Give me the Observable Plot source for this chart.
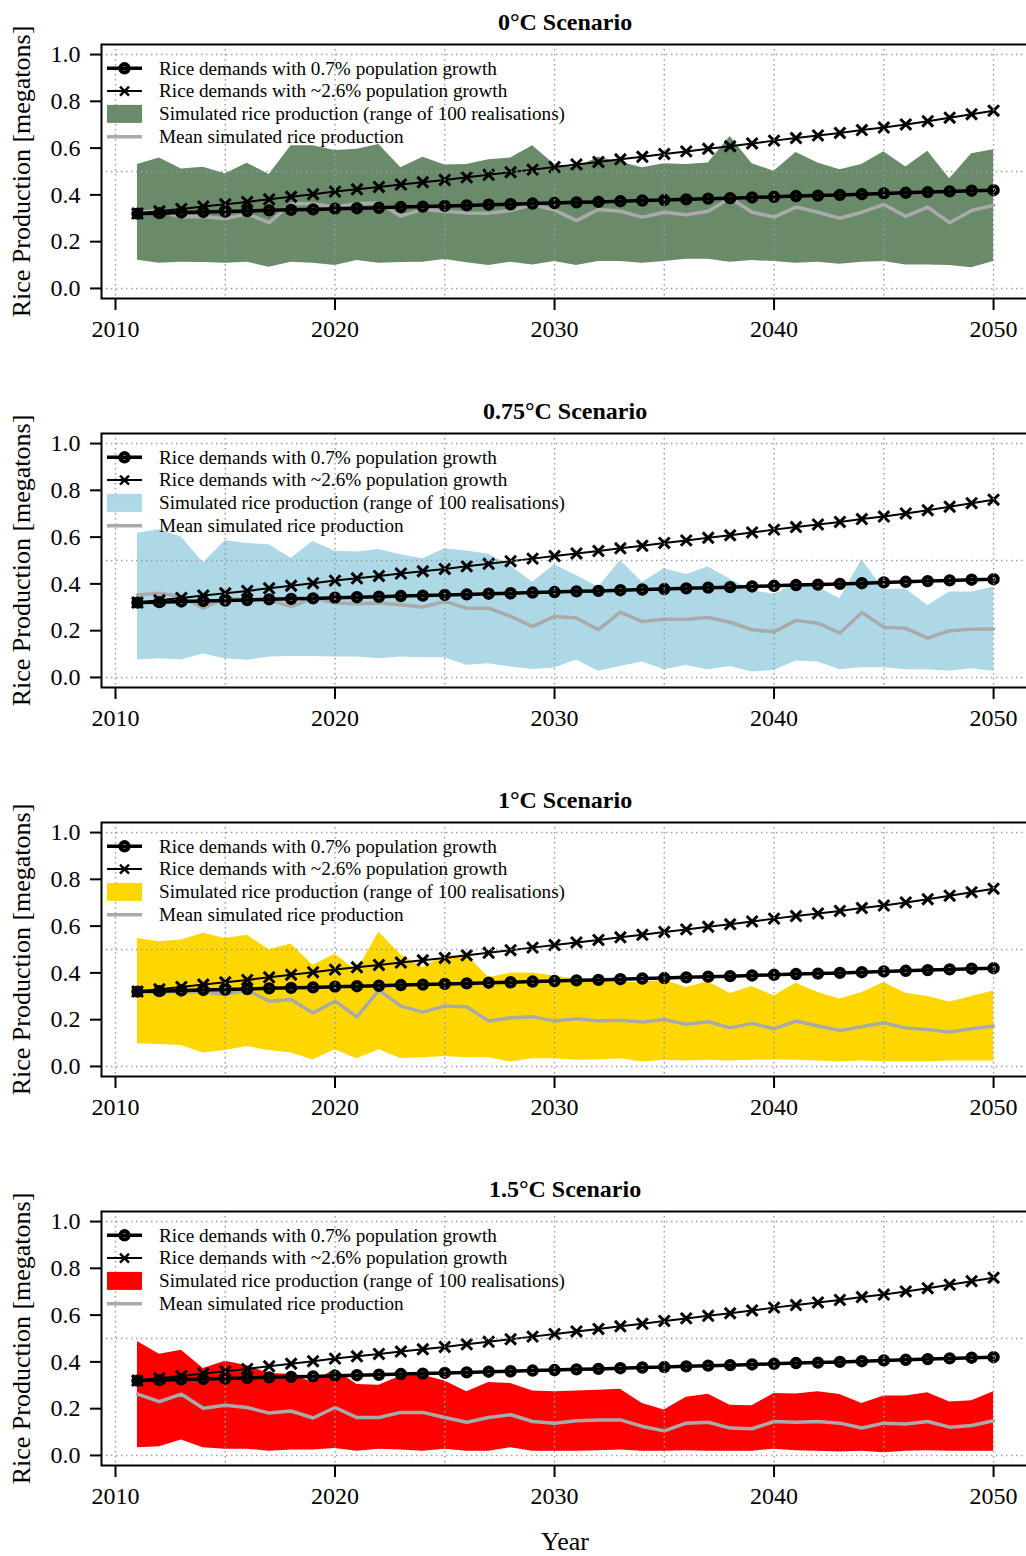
<!DOCTYPE html>
<html><head><meta charset="utf-8">
<script src="https://cdn.jsdelivr.net/npm/d3@7"></script>
<script src="https://cdn.jsdelivr.net/npm/@observablehq/plot@0.6"></script>
<style>
body{margin:0;background:#fff;width:1026px;overflow:hidden;}
svg{display:block;}
</style></head><body><div id="chart"></div>
<script>
const years = [2011,2012,2013,2014,2015,2016,2017,2018,2019,2020,2021,2022,2023,2024,2025,2026,2027,2028,2029,2030,
               2031,2032,2033,2034,2035,2036,2037,2038,2039,2040,2041,2042,2043,2044,2045,2046,2047,2048,2049,2050];
const demand07 = [0.320,0.322,0.325,0.327,0.329,0.331,0.334,0.336,0.338,0.341,0.343,0.345,0.348,0.350,0.353,0.355,0.358,0.360,0.363,0.365,
                  0.368,0.370,0.373,0.376,0.378,0.381,0.384,0.386,0.389,0.392,0.395,0.397,0.400,0.403,0.406,0.409,0.412,0.415,0.418,0.420];
const demand26 = [0.320,0.330,0.340,0.350,0.360,0.370,0.381,0.392,0.403,0.414,0.424,0.434,0.444,0.454,0.464,0.475,0.486,0.497,0.508,0.519,
                  0.530,0.541,0.552,0.563,0.575,0.586,0.597,0.608,0.620,0.632,0.643,0.654,0.665,0.677,0.688,0.701,0.715,0.730,0.745,0.760];

const s0Max = [0.530,0.558,0.511,0.518,0.490,0.535,0.487,0.610,0.610,0.590,0.595,0.615,0.516,0.561,0.528,0.530,0.550,0.558,0.610,0.530,
               0.516,0.561,0.540,0.516,0.533,0.530,0.536,0.650,0.533,0.501,0.581,0.536,0.507,0.530,0.584,0.519,0.587,0.469,0.576,0.593];
const s0Min = [0.121,0.108,0.112,0.111,0.108,0.112,0.091,0.112,0.108,0.098,0.120,0.108,0.111,0.112,0.124,0.110,0.098,0.112,0.100,0.115,
               0.098,0.115,0.115,0.108,0.115,0.125,0.125,0.112,0.119,0.115,0.108,0.112,0.103,0.112,0.115,0.100,0.100,0.098,0.088,0.115];
const s0Mean = [0.326,0.333,0.305,0.308,0.298,0.319,0.281,0.362,0.362,0.348,0.362,0.365,0.309,0.338,0.330,0.323,0.322,0.333,0.359,0.335,
                0.290,0.338,0.330,0.305,0.326,0.315,0.330,0.387,0.326,0.305,0.348,0.326,0.300,0.326,0.359,0.308,0.348,0.281,0.333,0.355];

const s075Max = [0.617,0.631,0.600,0.490,0.584,0.573,0.567,0.510,0.581,0.540,0.536,0.547,0.525,0.507,0.550,0.541,0.527,0.477,0.407,0.482,
                 0.436,0.386,0.500,0.407,0.465,0.440,0.472,0.420,0.372,0.355,0.400,0.386,0.336,0.503,0.375,0.378,0.308,0.365,0.365,0.386];
const s075Min = [0.075,0.080,0.075,0.100,0.080,0.073,0.087,0.090,0.090,0.087,0.087,0.080,0.087,0.084,0.084,0.052,0.059,0.045,0.034,0.040,
                 0.075,0.027,0.047,0.066,0.033,0.051,0.033,0.047,0.023,0.030,0.070,0.066,0.033,0.041,0.041,0.033,0.033,0.027,0.037,0.027];
const s075Mean = [0.353,0.360,0.346,0.296,0.339,0.332,0.332,0.303,0.339,0.318,0.315,0.318,0.311,0.301,0.325,0.296,0.296,0.261,0.218,0.261,
                  0.254,0.204,0.279,0.239,0.249,0.249,0.256,0.236,0.204,0.195,0.244,0.232,0.190,0.278,0.215,0.210,0.168,0.200,0.206,0.207];

const s1Max = [0.547,0.533,0.541,0.570,0.547,0.561,0.499,0.523,0.433,0.480,0.409,0.575,0.476,0.423,0.473,0.476,0.380,0.399,0.399,0.387,
               0.373,0.370,0.362,0.359,0.370,0.338,0.362,0.312,0.342,0.302,0.356,0.316,0.288,0.316,0.359,0.313,0.299,0.276,0.299,0.323];
const s1Min = [0.097,0.094,0.090,0.057,0.068,0.085,0.068,0.057,0.028,0.071,0.033,0.071,0.034,0.037,0.043,0.037,0.037,0.019,0.033,0.033,
               0.026,0.028,0.033,0.019,0.026,0.023,0.026,0.023,0.026,0.028,0.026,0.023,0.019,0.023,0.019,0.019,0.019,0.023,0.023,0.023];
const s1Mean = [0.326,0.318,0.318,0.318,0.308,0.326,0.279,0.286,0.229,0.279,0.212,0.326,0.258,0.232,0.258,0.255,0.194,0.208,0.212,0.194,
                0.204,0.194,0.197,0.190,0.201,0.180,0.191,0.165,0.184,0.161,0.194,0.173,0.154,0.170,0.187,0.164,0.158,0.147,0.161,0.173];

const s15Max = [0.487,0.433,0.450,0.372,0.403,0.383,0.350,0.347,0.312,0.369,0.303,0.300,0.340,0.343,0.318,0.272,0.312,0.308,0.276,0.272,
                0.275,0.279,0.283,0.222,0.194,0.249,0.262,0.215,0.212,0.265,0.263,0.272,0.261,0.222,0.254,0.254,0.268,0.228,0.234,0.272];
const s15Min = [0.033,0.037,0.066,0.033,0.027,0.027,0.018,0.023,0.023,0.030,0.018,0.027,0.023,0.018,0.027,0.018,0.018,0.033,0.018,0.018,
                0.018,0.020,0.023,0.018,0.018,0.020,0.018,0.018,0.018,0.027,0.020,0.018,0.015,0.018,0.012,0.018,0.020,0.018,0.018,0.018];
const s15Mean = [0.262,0.230,0.262,0.202,0.215,0.205,0.181,0.190,0.160,0.205,0.162,0.162,0.184,0.184,0.162,0.142,0.162,0.174,0.145,0.138,
                 0.148,0.152,0.152,0.124,0.105,0.138,0.142,0.117,0.114,0.145,0.142,0.145,0.138,0.117,0.138,0.134,0.145,0.121,0.128,0.148];

const scenarioTitles = ["0°C Scenario", "0.75°C Scenario", "1°C Scenario", "1.5°C Scenario"];
const fillColors = ["#698b69", "#add8e6", "#ffd700", "#ff0000"];
const legendLabels = ["Rice demands with 0.7% population growth",
                      "Rice demands with ~2.6% population growth",
                      "Simulated rice production (range of 100 realisations)",
                      "Mean simulated rice production"];
const yTicks = [0, 0.2, 0.4, 0.6, 0.8, 1.0];
const xTicks = [2010, 2020, 2030, 2040, 2050];
const gridX = [2010, 2015, 2020, 2025, 2030, 2035, 2040, 2045, 2050];
const gridY = [0, 0.5, 1.0];
const yLabel = "Rice Production [megatons]";
const xLabel = "Year";

const maxs = [s0Max, s075Max, s1Max, s15Max];
const mins = [s0Min, s075Min, s1Min, s15Min];
const means = [s0Mean, s075Mean, s1Mean, s15Mean];

const FONT = "'Liberation Serif', 'Times New Roman', serif";
const MEAN_COLOR = "#aaaaaa";
const GRID_COLOR = "#9a9a9a";

function panel(i, last) {
  const rows = years.map((yr, k) => ({year: yr, lo: mins[i][k], hi: maxs[i][k], mean: means[i][k], d07: demand07[k], d26: demand26[k]}));
  const grid = {stroke: GRID_COLOR, strokeWidth: 1.4, strokeDasharray: "1.4,3.6"};
  const svg = Plot.plot({
    width: 1026, height: 389,
    marginTop: 44, marginBottom: 91, marginLeft: 101, marginRight: -2,
    style: {fontFamily: FONT, fontSize: "24px", background: "white", color: "black"},
    x: {domain: [2009.362, 2051.5], range: [101, 1026]},
    y: {domain: [-0.043, 1.043]},
    marks: [
      Plot.areaY(rows, {x: "year", y1: "lo", y2: "hi", fill: fillColors[i], fillOpacity: 1}),
      Plot.line(rows, {x: "year", y: "mean", stroke: MEAN_COLOR, strokeWidth: 3.5}),
      Plot.line(rows, {x: "year", y: "d26", stroke: "black", strokeWidth: 2}),
      Plot.dot(rows, {x: "year", y: "d26", symbol: "times", r: 5, stroke: "black", strokeWidth: 3}),
      Plot.line(rows, {x: "year", y: "d07", stroke: "black", strokeWidth: 3.5}),
      Plot.dot(rows, {x: "year", y: "d07", r: 4.2, stroke: "black", strokeWidth: 4, fill: "none"}),
      Plot.ruleX(gridX, grid),
      Plot.ruleY(gridY, grid),
      Plot.frame({stroke: "black", strokeWidth: 2}),
      Plot.axisX({ticks: xTicks, tickFormat: "d", tickSize: 12, tickPadding: 9, fontSize: 24, strokeWidth: 2, label: null}),
      Plot.axisY({ticks: yTicks, tickFormat: ".1f", tickSize: 11, tickPadding: 10, fontSize: 24, strokeWidth: 2, label: null}),
      Plot.text([scenarioTitles[i]], {text: d => d, frameAnchor: "top", dy: -22, lineAnchor: "middle", fontWeight: "bold", fontSize: 24}),
      Plot.text([yLabel], {text: d => d, frameAnchor: "left", dx: -80, rotate: -90, textAnchor: "middle", lineAnchor: "middle", fontSize: 26}),
      last ? Plot.text([xLabel], {text: d => d, frameAnchor: "bottom", dy: 76, lineAnchor: "middle", fontSize: 26}) : null
    ].filter(Boolean)
  });

  // legend (top-left inside plot box)
  const g = d3.select(svg).append("g").attr("font-family", FONT).attr("font-size", 19.2).attr("text-anchor", "start");
  const x0 = 107, x1 = 142, xm = 124.5, xt = 159, ty0 = 68.3, step = 22.8;
  legendLabels.forEach((lab, j) => {
    const cy = ty0 + j * step;
    if (j === 0) {
      g.append("line").attr("x1", x0).attr("x2", x1).attr("y1", cy).attr("y2", cy).attr("stroke", "black").attr("stroke-width", 3.5);
      g.append("circle").attr("cx", xm).attr("cy", cy).attr("r", 4.2).attr("fill", "none").attr("stroke", "black").attr("stroke-width", 4);
    } else if (j === 1) {
      g.append("line").attr("x1", x0).attr("x2", x1).attr("y1", cy).attr("y2", cy).attr("stroke", "black").attr("stroke-width", 2);
      g.append("path").attr("d", `M${xm-4.5},${cy-4.5}L${xm+4.5},${cy+4.5}M${xm-4.5},${cy+4.5}L${xm+4.5},${cy-4.5}`)
        .attr("stroke", "black").attr("stroke-width", 2.4);
    } else if (j === 2) {
      g.append("rect").attr("x", x0).attr("y", cy - 9).attr("width", x1 - x0).attr("height", 18).attr("fill", fillColors[i]);
    } else {
      g.append("line").attr("x1", x0).attr("x2", x1).attr("y1", cy).attr("y2", cy).attr("stroke", MEAN_COLOR).attr("stroke-width", 3.5);
    }
    g.append("text").attr("x", xt).attr("y", cy).attr("dy", "0.33em").attr("fill", "black").attr("text-anchor", "start").text(lab);
  });
  return svg;
}

const container = document.getElementById("chart");
for (let i = 0; i < 4; i++) container.appendChild(panel(i, i === 3));
</script></body></html>
